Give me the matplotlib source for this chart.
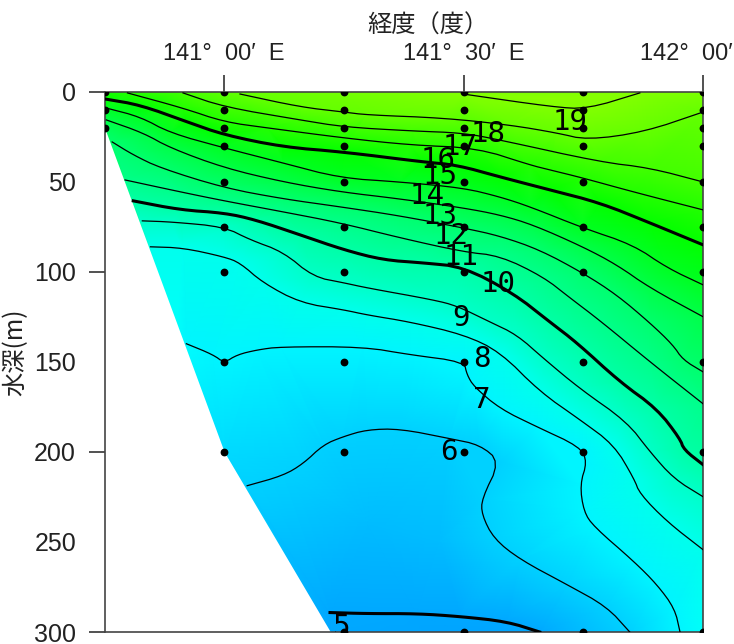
import numpy as np
import matplotlib
matplotlib.use("Agg")
import matplotlib.pyplot as plt
from matplotlib.colors import LinearSegmentedColormap
from matplotlib.tri import Triangulation
from matplotlib.transforms import ScaledTranslation

# isotherms: longitude (deg E) and depth (m)
iso5_lon = [141.221, 141.298, 141.403, 141.493, 141.59, 141.659]
iso5_dep = [289.2, 289.8, 289.8, 291.4, 294.2, 300]
iso6_lon = [141.048, 141.123, 141.165, 141.207, 141.248, 141.298, 141.367, 141.472, 141.534, 141.576,
            141.538, 141.538, 141.563, 141.618, 141.716, 141.799, 141.847]
iso6_dep = [218.8, 213.2, 206.6, 196.1, 191.6, 187.7, 187.2, 192.7, 196.1, 205.5,
            226, 234.9, 248.2, 259.8, 273.7, 285.9, 300]
iso7_lon = [140.921, 140.977, 141, 141.027, 141.069, 141.117, 141.29, 141.388, 141.501, 141.507, 141.522,
            141.576, 141.653, 141.743, 141.758, 141.743, 141.751, 141.772, 141.856, 141.904, 141.941, 141.952]
iso7_dep = [140, 146.1, 150.6, 146.1, 143.4, 141.7, 141.7, 146.1, 150, 157.2, 163.9,
            176.1, 186.1, 197.2, 205.5, 218.2, 233.2, 241.5, 260.9, 273.7, 287, 300]
iso8_lon = [140.846, 140.914, 141, 141.033, 141.081, 141.159, 141.25, 141.298, 141.388, 141.501, 141.576,
            141.659, 141.743, 141.814, 141.856, 141.868, 141.925, 142]
iso8_dep = [86.2, 86.8, 91.8, 95.1, 106.2, 117.3, 121.2, 124, 127.9, 135, 144.5,
            166.6, 182.2, 196.1, 214.9, 223.3, 238.8, 254.3]
iso9_lon = [140.829, 140.891, 141, 141.054, 141.123, 141.186, 141.25, 141.298, 141.436, 141.486, 141.555,
            141.611, 141.668, 141.743, 141.841, 141.889, 141.939, 142]
iso9_dep = [71.8, 72.4, 75.1, 82.3, 89, 102.9, 106.2, 109, 115.6, 119, 127.9,
            135, 148.4, 165, 183.3, 199.9, 214.9, 224.9]
iso10_lon = [140.81, 140.908, 141, 141.065, 141.159, 141.25, 141.332, 141.415, 141.499, 141.603, 141.68,
             141.737, 141.826, 141.904, 141.952, 141.96, 142]
iso10_dep = [60.7, 65.7, 67.4, 71.2, 79.6, 87.9, 93.5, 95.1, 97.3, 111.8, 127.9,
             139.5, 161.1, 176.1, 192.7, 198.8, 207.1]
iso11_lon = [140.793, 140.908, 141, 141.123, 141.242, 141.367, 141.499, 141.576, 141.666, 141.722, 141.785,
             141.889, 142]
iso11_dep = [49.1, 55.7, 60.7, 66.8, 72.9, 81.2, 89, 91.2, 102.8, 114.5, 127.2, 150, 173.3]
iso12_lon = [140.766, 140.81, 140.866, 141, 141.123, 141.242, 141.367, 141.499, 141.576, 141.659, 141.749,
             141.82, 141.889, 141.937, 141.958, 142]
iso12_dep = [28, 35.2, 42.4, 53.5, 59.6, 64, 69, 75.7, 80.2, 87.9, 100.7,
             112.9, 128.4, 140.6, 148.9, 155.6]
iso13_lon = [140.754, 140.831, 140.887, 141, 141.123, 141.242, 141.367, 141.499, 141.576, 141.645, 141.749,
             141.82, 141.889, 142]
iso13_dep = [15.8, 23, 31.3, 42.4, 50.2, 55.7, 59.6, 64.6, 68.5, 74, 86.2, 96.2, 109, 125]
iso14_lon = [140.754, 140.825, 140.887, 141, 141.123, 141.242, 141.367, 141.499, 141.576, 141.639, 141.749,
             141.854, 141.925, 142]
iso14_dep = [9.2, 14.1, 23, 31.3, 39.7, 48, 50.2, 53.5, 58.5, 64, 75.7, 85.1, 97.9, 107.3]
iso15_lon = [140.752, 140.825, 140.923, 141, 141.123, 141.25, 141.415, 141.486, 141.576, 141.68, 141.785,
             141.889, 142]
iso15_dep = [4.2, 7.5, 16.9, 24.1, 30.8, 33.6, 39.1, 40.8, 47.4, 54.6, 61.8, 72.9, 85.1]
iso16_lon = [140.798, 140.914, 141, 141.09, 141.25, 141.388, 141.528, 141.639, 141.68, 141.749, 141.854, 142]
iso16_dep = [0.8, 9.2, 16.9, 20.2, 25.8, 29.7, 31.3, 40.8, 43.5, 48, 55.7, 65.7]
iso17_lon = [140.914, 141, 141.159, 141.25, 141.392, 141.499, 141.576, 141.785, 141.889, 142]
iso17_dep = [0.8, 8.6, 15.8, 19.7, 21.9, 23, 26.9, 39.1, 42.4, 50.2]
iso18_lon = [141.033, 141.159, 141.25, 141.298, 141.459, 141.597, 141.695, 141.758, 141.877, 142]
iso18_dep = [1.4, 8.6, 11.4, 13, 14.7, 18.6, 23, 26.9, 22.5, 11.4]
iso19_lon = [141.499, 141.687, 141.758, 141.868]
iso19_dep = [1.4, 8.6, 9.7, 0.8]

iso_temps = [5, 6, 7, 8, 9, 10, 11, 12, 13, 14, 15, 16, 17, 18, 19]
iso_lons = [iso5_lon, iso6_lon, iso7_lon, iso8_lon, iso9_lon, iso10_lon, iso11_lon, iso12_lon,
            iso13_lon, iso14_lon, iso15_lon, iso16_lon, iso17_lon, iso18_lon, iso19_lon]
iso_deps = [iso5_dep, iso6_dep, iso7_dep, iso8_dep, iso9_dep, iso10_dep, iso11_dep, iso12_dep,
            iso13_dep, iso14_dep, iso15_dep, iso16_dep, iso17_dep, iso18_dep, iso19_dep]

# temperatures estimated where no isotherm passes (surface, bank, bottom)
extra_lon = [140.75, 141.25, 141.68, 142, 140.75, 140.9, 141.0, 141.22, 141.5, 141.85, 141.95, 142, 141.3, 141.45]
extra_dep = [0, 0, 4, 0, 20, 140, 200, 300, 300, 300, 300, 300, 240, 250]
extra_temp = [15.6, 18.6, 19.5, 18.8, 12.7, 7.5, 6.3, 5.0, 4.9, 6.0, 7.0, 7.7, 5.6, 5.5]

# label text and where it sits
label_vals = [19, 18, 17, 16, 15, 14, 13, 12, 11, 10, 9, 8, 7, 6, 5]
label_lon = [141.722, 141.551, 141.493, 141.447, 141.451, 141.424, 141.451, 141.474, 141.495, 141.572,
             141.495, 141.538, 141.538, 141.47, 141.246]
label_dep = [16.9, 23.6, 30.8, 38, 46.9, 58, 69, 80.1, 91.8, 106.8, 125.6, 148.4, 171.1, 200, 297.5]

# observation stations
station_lon = [140.75, 141.0, 141.25, 141.5, 141.75, 142.0]
station_max = [20, 200, 300, 300, 300, 300]
obs_depths = [0, 10, 20, 30, 50, 75, 100, 150, 200, 300]

# sea bottom
bank_lon = [140.75, 141.0, 141.222]
bank_dep = [20, 200, 300]

lon_ticks = [141.0, 141.5, 142.0]
lon_labels = ["141°  00′  E", "141°  30′  E", "142°  00′"]
dep_ticks = [0, 50, 100, 150, 200, 250, 300]

temp_stops = [4, 5, 6, 7, 7.5, 10, 12, 15, 19, 20]
temp_cols = ["#0088ff", "#00a8ff", "#00d0ff", "#00f4ff", "#00ffff", "#00ffa8", "#00ff70", "#00ff00", "#80ff00", "#90ff00"]
cmap = LinearSegmentedColormap.from_list(
    "section", [((t - 4) / 16, c) for t, c in zip(temp_stops, temp_cols)], N=128)


def smooth(xs, ys, rounds=2):
    # corner cutting, the original lines are curved rather than angular
    pts = np.column_stack([xs, ys])
    for _ in range(rounds):
        q = 0.75 * pts[:-1] + 0.25 * pts[1:]
        r = 0.25 * pts[:-1] + 0.75 * pts[1:]
        mid = np.empty((2 * len(q), 2))
        mid[0::2] = q
        mid[1::2] = r
        pts = np.vstack([pts[0], mid, pts[-1]])
    return pts[:, 0], pts[:, 1]


fig = plt.figure(figsize=(7.34, 6.44), dpi=100)
ax = fig.add_axes([104.5 / 734, 12 / 644, 598.5 / 734, 540.5 / 644])

all_lon = np.concatenate(iso_lons + [extra_lon])
all_dep = np.concatenate(iso_deps + [extra_dep])
all_temp = np.concatenate([np.full(len(l), t) for l, t in zip(iso_lons, iso_temps)] + [extra_temp])

# triangles are built in screen-like proportions, otherwise they run along depth
tri = Triangulation(all_lon * 479, all_dep * 1.8).triangles
ax.tripcolor(all_lon, all_dep, tri, all_temp, shading="gouraud", cmap=cmap, vmin=4, vmax=20, zorder=1)
ax.fill_between(bank_lon, bank_dep, 300, color="white", lw=0, zorder=2)

for lons, deps, temp in zip(iso_lons, iso_deps, iso_temps):
    width = 2.2 if temp % 5 == 0 else 0.9
    sx, sy = smooth(lons, deps)
    ax.plot(sx, sy, color="black", lw=width, zorder=3)

for lon, max_dep in zip(station_lon, station_max):
    deps = [d for d in obs_depths if d <= max_dep]
    ax.plot([lon] * len(deps), deps, "o", color="black", ms=4.6, zorder=4)

for val, lon, dep in zip(label_vals, label_lon, label_dep):
    ax.text(lon, dep, str(val), ha="center", va="center", fontsize=21, color="black",
            family="DejaVu Sans Mono", clip_on=True, zorder=5)

ax.set_xlim(140.75, 142.0)
ax.set_ylim(300, 0)
ax.xaxis.tick_top()
ax.set_xticks(lon_ticks)
ax.set_xticklabels(lon_labels, fontsize=17, family="Liberation Sans", color="#222222")
ax.set_yticks(dep_ticks)
ax.set_yticklabels([str(d) for d in dep_ticks], fontsize=18, family="Liberation Sans", color="#222222")
ax.tick_params(axis="x", length=12, width=1.2, color="#333333", pad=7)
ax.tick_params(axis="y", length=11.5, width=1.2, color="#333333", pad=9)
for tick, d in zip(ax.yaxis.get_major_ticks(), dep_ticks):
    if d % 100 != 0:
        tick.tick1line.set_visible(False)
for spine in ax.spines.values():
    spine.set_color("#444444")
    spine.set_linewidth(1.2)

# last label stops at the edge of the picture
last = ax.get_xticklabels()[-1]
last.set_ha("right")
last.set_transform(last.get_transform() + ScaledTranslation(30 / 100, 0, fig.dpi_scale_trans))

ax.set_xlabel("経度（度）", fontsize=17.5, family=["Noto Sans CJK JP", "DejaVu Sans"], color="#222222")
ax.xaxis.set_label_position("top")
ax.xaxis.set_label_coords(0.54, 1.108)
ax.set_ylabel("水深(m)", fontsize=17.5, family=["Noto Sans CJK JP", "DejaVu Sans"], color="#222222")
ax.yaxis.set_label_coords(-0.128, 0.518)

fig.savefig("out.png", dpi=100)
